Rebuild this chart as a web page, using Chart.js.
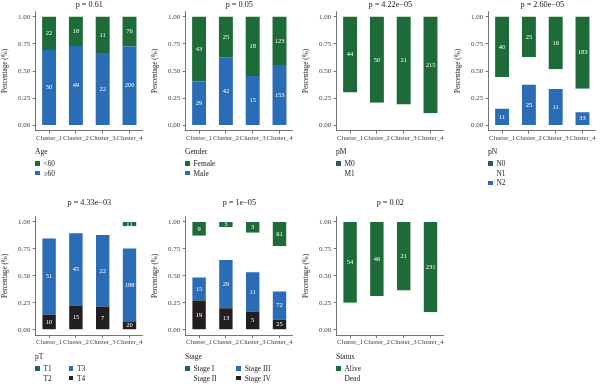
<!DOCTYPE html>
<html>
<head>
<meta charset="utf-8">
<script src="https://cdn.jsdelivr.net/npm/chart.js@4.4.1/dist/chart.umd.min.js"></script>
<style>
  html, body { margin: 0; padding: 0; background: #fff; }
  body { width: 600px; height: 386px; position: relative; overflow: hidden; font-family: 'Liberation Serif', serif; }
  canvas { position: absolute; }
  .legend { position: absolute; font-size: 7.4px; color: #222; will-change: transform; }
  .legend .ttl { height: 10px; line-height: 10px; font-size: 7.6px; }
  .legend .items { display: grid; grid-auto-flow: column; justify-content: start; margin-top: 1.4px; }
  .legend .item { display: flex; align-items: center; height: 9.8px; white-space: nowrap; }
  .legend .key { width: 4.5px; height: 4.5px; margin-right: 4px; flex: none; }
</style>
</head>
<body>
<script>
// clusters and axis
const clusters = ['Cluster_1', 'Cluster_2', 'Cluster_3', 'Cluster_4'];
const yTicks = [0, 0.25, 0.5, 0.75, 1];
const pValues = ['p = 0.61', 'p = 0.05', 'p = 4.22e\u221205', 'p = 2.60e\u221205',
                 'p = 4.33e\u221203', 'p = 1e\u221205', 'p = 0.02'];

// counts per cluster (unlabelled levels)
const ageUnder60 = [22, 18, 11, 76];
const ageOver60 = [50, 49, 22, 200];
const genderFemale = [43, 25, 18, 123];
const genderMale = [29, 42, 15, 153];
const pmM0 = [44, 50, 21, 215];
const pmM1 = [19, 13, 5, 27];
const pnN0 = [40, 25, 16, 183];
const pnN1 = [21, 17, 6, 60];
const pnN2 = [11, 25, 11, 33];
const ptT1 = [0, 0, 0, 11];
const ptT2 = [11, 7, 4, 57];
const ptT3 = [51, 45, 22, 188];
const ptT4 = [10, 15, 7, 20];
const stageI = [9, 3, 3, 61];
const stageII = [27, 20, 11, 115];
const stageIII = [15, 29, 11, 72];
const stageIV = [19, 13, 5, 25];
const statusAlive = [54, 46, 21, 231];
const statusDead = [18, 21, 12, 45];

const GREEN = '#1c6b38';
const BLUE = '#2b6cb6';
const BLACK = '#231f20';
const NONE = '#ffffff';
const FONT = "'Liberation Serif', serif";

const rows = [
    { top: 0, height: 145, areaTop: 11.3, areaBottom: 130.7, titleMid: 4.6, legendTop: 147.3, bar: 0.52 },
    { top: 193, height: 156, areaTop: 23.6, areaBottom: 142.1, titleMid: 10, legendTop: 352.3, bar: 0.5 }
];

const panels = [
    { row: 0, left: 0, title: pValues[0], name: 'Age', levels: [['<60', ageUnder60, GREEN], ['\u226560', ageOver60, BLUE]] },
    { row: 0, left: 150, title: pValues[1], name: 'Gender', levels: [['Female', genderFemale, GREEN], ['Male', genderMale, BLUE]] },
    { row: 0, left: 301, title: pValues[2], name: 'pM', levels: [['M0', pmM0, GREEN], ['M1', pmM1, NONE]] },
    { row: 0, left: 453, title: pValues[3], name: 'pN', levels: [['N0', pnN0, GREEN], ['N1', pnN1, NONE], ['N2', pnN2, BLUE]] },
    { row: 1, left: 0, title: pValues[4], name: 'pT', gap: 16.8,
      levels: [['T1', ptT1, GREEN], ['T2', ptT2, NONE], ['T3', ptT3, BLUE], ['T4', ptT4, BLACK]] },
    { row: 1, left: 150, title: pValues[5], name: 'Stage', gap: 19.5,
      levels: [['Stage I', stageI, GREEN], ['Stage II', stageII, NONE], ['Stage III', stageIII, BLUE], ['Stage IV', stageIV, BLACK]] },
    { row: 1, left: 301, title: pValues[6], name: 'Status', levels: [['Alive', statusAlive, GREEN], ['Dead', statusDead, NONE]] }
];

// white count labels in the middle of each coloured segment
const countLabels = {
    id: 'countLabels',
    afterDatasetsDraw(chart) {
        const ctx = chart.ctx;
        ctx.save();
        ctx.font = '6.5px ' + FONT;
        ctx.fillStyle = '#ffffff';
        ctx.textAlign = 'center';
        ctx.textBaseline = 'middle';
        chart.data.datasets.forEach((ds, i) => {
            if (ds.backgroundColor === NONE) return;
            chart.getDatasetMeta(i).data.forEach((bar, j) => {
                const n = ds.counts[j];
                if (!n) return;
                ctx.fillText(String(n), bar.x, (bar.y + bar.base) / 2);
            });
        });
        ctx.restore();
    }
};

function axisStyle() {
    return {
        border: { display: true, color: '#3a3a3a', width: 0.7 },
        grid: { display: true, drawOnChartArea: false, drawTicks: true, tickLength: 3, color: '#3a3a3a', lineWidth: 0.7, offset: false }
    };
}

function drawPanel(p) {
    const r = rows[p.row];
    const canvas = document.createElement('canvas');
    canvas.width = 150;
    canvas.height = r.height;
    canvas.style.left = p.left + 'px';
    canvas.style.top = r.top + 'px';
    document.body.appendChild(canvas);

    const totals = clusters.map((c, j) => p.levels.reduce((s, l) => s + l[1][j], 0));
    // ggplot stacks the first level on top, Chart.js stacks the first dataset at the bottom
    const datasets = p.levels.slice().reverse().map(([label, counts, color]) => ({
        label,
        counts,
        data: counts.map((n, j) => n / totals[j]),
        backgroundColor: color,
        borderWidth: 0,
        categoryPercentage: 1,
        barPercentage: r.bar
    }));

    const titleSize = 8.2;
    new Chart(canvas, {
        type: 'bar',
        data: { labels: clusters, datasets },
        options: {
            responsive: false,
            animation: false,
            devicePixelRatio: 1,
            layout: { padding: { left: 0, right: 7.1, top: 0, bottom: 0 } },
            plugins: {
                legend: { display: false },
                tooltip: { enabled: false },
                title: {
                    display: true,
                    text: p.title,
                    fullSize: false,
                    color: '#222',
                    font: { family: FONT, size: titleSize, lineHeight: 1, weight: 'normal' },
                    padding: { top: r.titleMid - titleSize / 2, bottom: r.areaTop - r.titleMid - titleSize / 2 }
                }
            },
            scales: {
                x: {
                    stacked: true,
                    ...axisStyle(),
                    ticks: { color: '#444', font: { family: FONT, size: 6.7 }, padding: 0.1, autoSkip: false, maxRotation: 0 },
                    afterFit: s => { s.height = r.height - r.areaBottom; }
                },
                y: {
                    stacked: true,
                    min: -0.05,
                    max: 1.05,
                    ...axisStyle(),
                    afterBuildTicks: s => { s.ticks = yTicks.map(v => ({ value: v })); },
                    ticks: { color: '#444', font: { family: FONT, size: 7 }, padding: 2.5, callback: v => v.toFixed(2) },
                    title: { display: true, text: 'Percentage (%)', color: '#222', font: { family: FONT, size: 7.2 }, padding: { top: 1, bottom: 0 } },
                    afterFit: s => { s.width = 35.7; }
                }
            }
        },
        plugins: [countLabels]
    });

    // legend below the panel, filled column by column like ggplot
    const legend = document.createElement('div');
    legend.className = 'legend';
    legend.style.left = (p.left + 35.3) + 'px';
    legend.style.top = r.legendTop + 'px';
    const nRows = p.levels.length <= 3 ? p.levels.length : 2;
    legend.innerHTML = `<div class="ttl">${p.name}</div>` +
        `<div class="items" style="grid-template-rows: repeat(${nRows}, 9.8px); column-gap: ${p.gap || 18}px">` +
        p.levels.map(([label, , color]) =>
            `<div class="item"><span class="key" style="background:${color}"></span><span>${label}</span></div>`
        ).join('') + '</div>';
    document.body.appendChild(legend);
}

panels.forEach(drawPanel);
</script>
</body>
</html>
